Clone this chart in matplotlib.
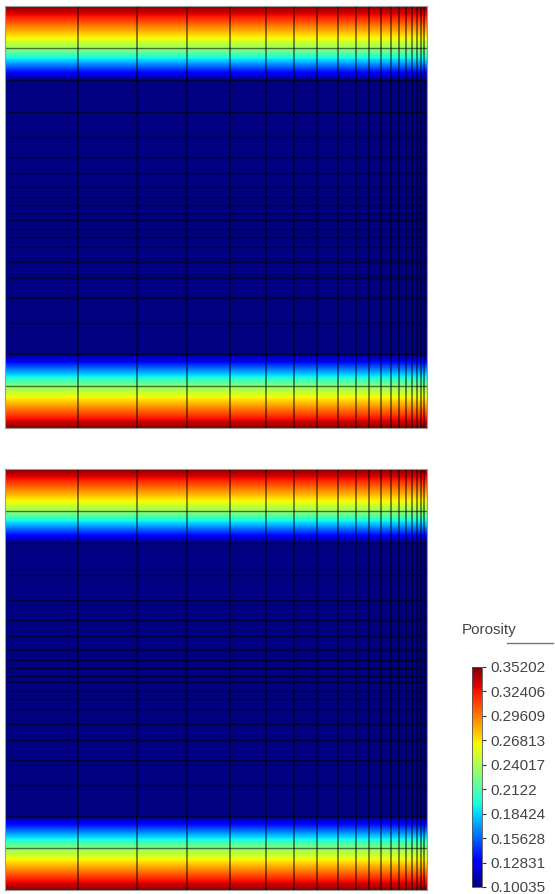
import numpy as np
import matplotlib
matplotlib.use("Agg")
import matplotlib.pyplot as plt
from matplotlib.lines import Line2D
from matplotlib.cm import ScalarMappable
from matplotlib.colors import Normalize
from matplotlib import font_manager

# Mesh node positions (panel units, x: left->right, y: bottom->top)
x_nodes = [0, 73, 132, 182, 225, 261, 289, 312, 333, 351, 364, 376, 386,
           394, 401, 407, 412, 416, 419, 422]
y_nodes = [0, 42, 74, 105, 130, 150, 166, 181, 191, 199, 208, 215, 223,
           231, 241, 255, 271, 291, 316, 348, 380, 422]

# Porosity at each row of nodes (bottom -> top)
porosity_top = [0.35202, 0.23, 0.10035, 0.10035, 0.10035, 0.10035, 0.10035,
                0.10035, 0.10035, 0.10035, 0.10035, 0.10035, 0.10035, 0.10035,
                0.10035, 0.10035, 0.10035, 0.10035, 0.10035, 0.10035, 0.235,
                0.35202]
porosity_bottom = [0.35202, 0.23, 0.10035, 0.10035, 0.10035, 0.10035, 0.10035,
                   0.10035, 0.10035, 0.10035, 0.10035, 0.10035, 0.10035, 0.10035,
                   0.10035, 0.10035, 0.10035, 0.10035, 0.10035, 0.10035, 0.235,
                   0.35202]

cbar_ticks = [0.35202, 0.32406, 0.29609, 0.26813, 0.24017, 0.2122,
              0.18424, 0.15628, 0.12831, 0.10035]
cbar_labels = ["0.35202", "0.32406", "0.29609", "0.26813", "0.24017", "0.2122",
               "0.18424", "0.15628", "0.12831", "0.10035"]
vmin, vmax = 0.10035, 0.35202

W, H = 555, 894
fig = plt.figure(figsize=(W / 100, H / 100), dpi=100)

available = {f.name for f in font_manager.fontManager.ttflist}
if 'Liberation Sans Narrow' in available:
    label_family = ['Liberation Sans Narrow', 'DejaVu Sans']
    label_size = 12.5
else:
    label_family = ['Liberation Sans', 'DejaVu Sans']
    label_size = 11
plt.rcParams['font.family'] = label_family

norm = Normalize(vmin=vmin, vmax=vmax)
cmap = plt.get_cmap('jet')
levels = np.linspace(vmin - 1e-6, vmax + 1e-6, 300)


def px_axes(x0, y0, x1, y1):
    return fig.add_axes([x0 / W, 1 - y1 / H, (x1 - x0) / W, (y1 - y0) / H])


def draw_panel(ax, por):
    X, Y = np.meshgrid(np.array(x_nodes, float), np.array(y_nodes, float))
    C = np.tile(np.array(por)[:, None], (1, len(x_nodes)))
    ax.contourf(X, Y, C, levels=levels, cmap=cmap, norm=norm,
                antialiased=False)
    ax.vlines(x_nodes[1:-1], y_nodes[0], y_nodes[-1], colors='black',
              linewidth=1.1, alpha=0.6)
    ax.hlines(y_nodes[1:-1], x_nodes[0], x_nodes[-1], colors='black',
              linewidth=1.0, alpha=0.55)
    ax.set_xlim(x_nodes[0], x_nodes[-1])
    ax.set_ylim(y_nodes[0], y_nodes[-1])
    ax.set_xticks([])
    ax.set_yticks([])
    for s in ax.spines.values():
        s.set_color('#9a9a9a')
        s.set_linewidth(0.8)


ax1 = px_axes(5, 6, 427, 428)
draw_panel(ax1, porosity_top)
ax2 = px_axes(5, 469, 427, 890)
draw_panel(ax2, porosity_bottom)

cax = px_axes(472, 667, 482, 887)
sm = ScalarMappable(norm=norm, cmap=cmap)
cb = fig.colorbar(sm, cax=cax)
cb.set_ticks(cbar_ticks, labels=cbar_labels)
cb.outline.set_edgecolor('#555555')
cb.outline.set_linewidth(0.6)
cax.tick_params(axis='y', length=3, width=0.8, color='#333333', pad=3,
                labelsize=label_size, labelcolor='#444444')

fig.text(462 / W, 1 - 630 / H, "Porosity", fontsize=label_size,
         color='#444444', ha='left', va='center')
fig.add_artist(Line2D([507 / W, 553 / W], [1 - 643 / H, 1 - 643 / H],
                      color='#777777', linewidth=1.0))

fig.savefig("out.png", dpi=100)
